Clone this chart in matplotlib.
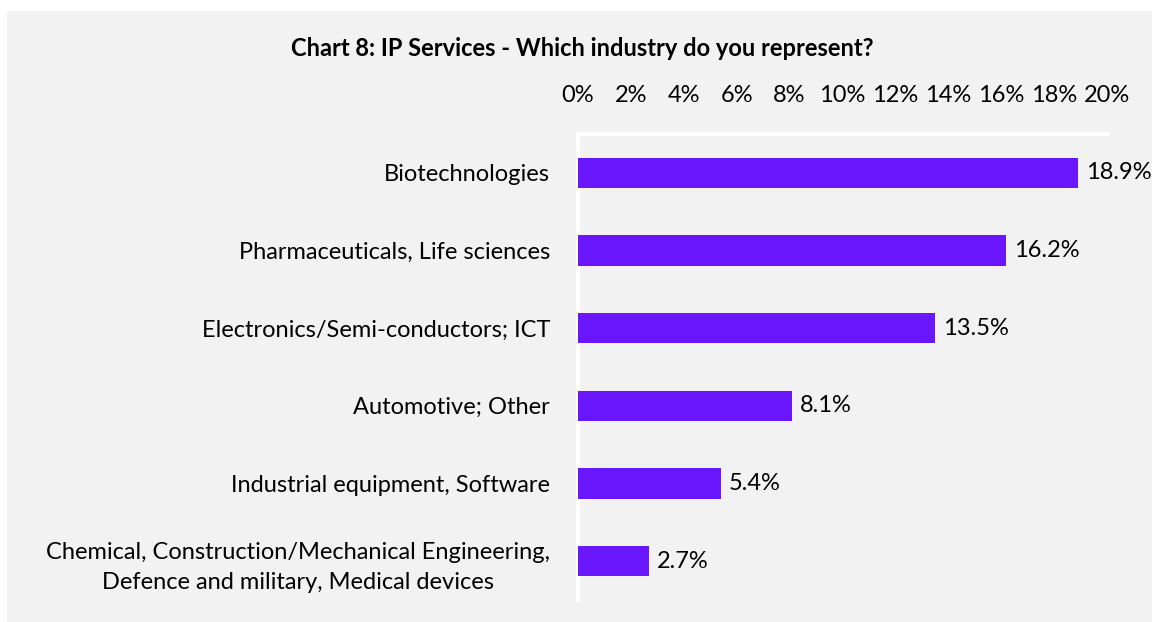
import matplotlib
matplotlib.use("Agg")
import matplotlib.pyplot as plt
from matplotlib.patches import Rectangle
from matplotlib.ticker import FuncFormatter

# survey answers, top row first
industries = [
    "Biotechnologies",
    "Pharmaceuticals, Life sciences",
    "Electronics/Semi-conductors; ICT",
    "Automotive; Other",
    "Industrial equipment, Software",
    "Chemical, Construction/Mechanical Engineering,\nDefence and military, Medical devices",
]
shares = [18.9, 16.2, 13.5, 8.1, 5.4, 2.7]
x_ticks = [0, 2, 4, 6, 8, 10, 12, 14, 16, 18, 20]

bar_color = "#6A17FF"
panel_color = "#F2F2F2"
fs = 17

plt.rcParams['font.family'] = ['Lato', 'DejaVu Sans']

fig = plt.figure(figsize=(11.52, 6.22), dpi=100)
fig.patch.set_facecolor("white")
fig.patches.append(Rectangle((7 / 1152, 0), 1 - 7 / 1152, 1 - 11 / 622,
                             transform=fig.transFigure, facecolor=panel_color,
                             edgecolor="none", zorder=-10))

ax = fig.add_axes([578 / 1152, 22 / 622, (1107 - 578) / 1152, (600 - 134) / 622])
ax.set_facecolor("none")

ypos = list(range(len(industries)))
ax.barh(ypos, shares, height=0.39, color=bar_color, zorder=3)
for y, v in zip(ypos, shares):
    ax.text(v + 0.3, y, f"{v:.1f}%", va="center", ha="left", fontsize=fs)

ax.set_ylim(len(industries) - 0.5, -0.5)
ax.set_xlim(0, 20)
ax.set_yticks(ypos)
ax.set_yticklabels(industries, fontsize=fs, multialignment="center", linespacing=1.5)
ax.set_xticks(x_ticks)
ax.xaxis.set_major_formatter(FuncFormatter(lambda v, p: f"{v:.0f}%"))
ax.xaxis.tick_top()
ax.tick_params(axis="x", length=0, pad=20, labelsize=fs)
ax.tick_params(axis="y", length=0, pad=20)

for side in ["right", "bottom"]:
    ax.spines[side].set_visible(False)
for side in ["left", "top"]:
    ax.spines[side].set_color("white")
    ax.spines[side].set_linewidth(3)

fig.text(582 / 1152, 1 - 48 / 622, "Chart 8: IP Services - Which industry do you represent?",
         ha="center", va="center", fontsize=fs, fontweight="bold")

fig.savefig("out.png", dpi=100)
